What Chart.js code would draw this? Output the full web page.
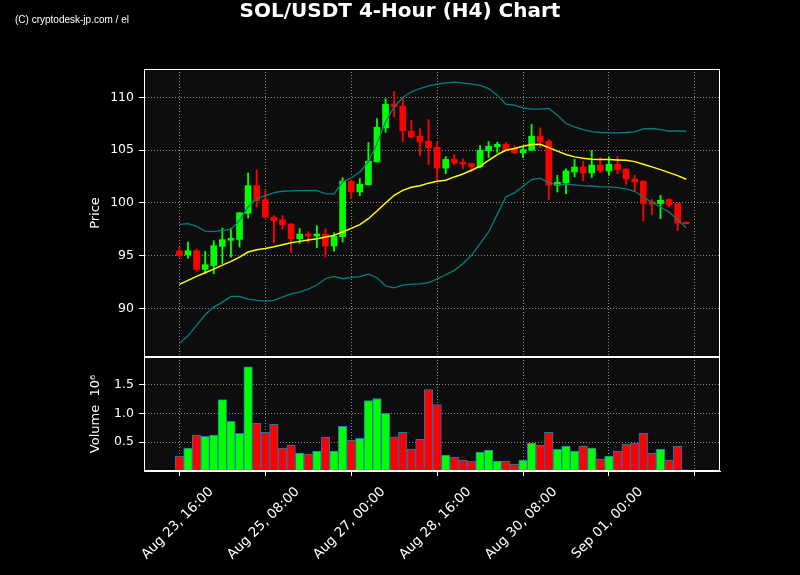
<!DOCTYPE html>
<html><head><meta charset="utf-8">
<script src="https://cdn.jsdelivr.net/npm/chart.js@4"></script>
<style>
html,body{margin:0;padding:0;background:#000;}
#wrap{position:relative;width:800px;height:575px;background:#000;}
#wm{position:absolute;left:15px;top:14px;color:#fff;font:10px "Liberation Sans",Arial,sans-serif;white-space:nowrap;}
</style></head><body>
<div id="wrap"><canvas id="c" width="800" height="575"></canvas><div id="wm">(C) cryptodesk-jp.com / el</div></div>
<script>
// ---- data (4-hour candles, Aug 23 16:00 onward) ----
const opens  = [95.45,95.08,95.47,93.70,94.08,95.89,96.46,96.55,99.02,101.65,100.32,98.64,98.40,98.00,96.62,97.06,96.86,97.06,95.92,96.80,102.07,101.05,101.72,103.90,107.12,109.37,109.18,106.80,106.33,105.86,105.29,103.30,104.15,103.86,103.73,103.42,104.94,105.32,105.57,105.13,104.75,105.00,106.33,105.85,101.68,101.90,102.94,103.40,102.85,103.60,103.03,103.68,103.21,102.28,102.07,100.07,99.95,100.33,99.94,98.18];
const highs  = [95.80,96.30,95.63,95.41,96.42,97.63,97.63,99.10,102.85,103.13,101.17,98.80,98.80,98.05,97.58,97.28,97.85,97.56,97.18,102.40,102.10,102.32,105.73,107.99,109.89,110.58,110.04,107.82,107.06,107.91,105.77,104.40,104.59,104.18,103.76,105.44,105.82,105.76,105.76,105.44,105.25,107.44,107.12,106.01,102.63,103.23,104.13,103.94,104.98,104.32,104.37,104.40,103.25,102.62,102.10,100.33,100.72,100.42,99.97,98.20];
const lows   = [94.85,94.78,93.54,93.35,93.29,94.24,94.87,95.82,98.58,99.62,98.58,96.22,97.50,95.30,96.16,96.20,95.76,94.87,95.44,96.30,100.42,100.68,101.70,103.88,106.70,108.16,105.82,106.20,104.48,103.65,102.08,102.78,103.61,103.26,102.94,103.32,104.30,104.78,105.00,104.68,104.30,104.98,105.22,100.32,101.04,100.89,102.48,102.10,102.42,102.86,102.63,102.78,101.76,101.06,98.30,98.90,98.52,99.63,97.39,98.00];
const closes = [95.00,95.47,93.70,94.15,95.95,96.52,96.65,99.08,101.65,100.22,98.64,98.32,97.93,96.62,97.05,96.88,97.06,95.92,96.84,102.07,101.05,101.78,103.96,107.18,109.37,109.12,106.84,106.25,105.79,105.21,103.32,104.13,103.80,103.70,103.42,105.00,105.38,105.57,105.06,104.75,105.06,106.33,105.79,101.68,101.96,103.03,103.40,102.85,103.60,103.04,103.68,103.16,102.28,101.99,99.95,99.92,100.26,99.81,98.08,98.03];
const volumes = [0.259,0.397,0.626,0.603,0.626,1.241,0.862,0.655,1.810,0.828,0.672,0.810,0.397,0.454,0.310,0.293,0.345,0.586,0.345,0.776,0.534,0.569,1.224,1.259,1.000,0.592,0.672,0.379,0.552,1.414,1.155,0.276,0.241,0.190,0.172,0.328,0.362,0.172,0.172,0.121,0.190,0.483,0.448,0.672,0.379,0.431,0.345,0.431,0.397,0.207,0.259,0.345,0.466,0.483,0.655,0.310,0.379,0.190,0.431,0.020];
const sma   = [92.28,92.66,93.04,93.39,93.73,94.11,94.46,94.87,95.35,95.57,95.68,95.85,96.04,96.23,96.36,96.48,96.61,96.77,96.93,97.25,97.59,97.94,98.51,99.24,100.00,100.73,101.20,101.49,101.64,101.88,102.05,102.15,102.47,102.75,103.10,103.48,104.05,104.59,105.00,105.16,105.38,105.54,105.57,105.25,104.91,104.59,104.37,104.24,104.15,104.11,104.11,104.08,104.05,103.92,103.67,103.42,103.16,102.88,102.59,102.25];
const upper = [97.97,98.04,97.78,97.34,97.28,97.41,97.50,98.35,99.62,100.41,100.68,100.98,101.11,101.14,101.17,101.19,101.17,100.89,100.85,102.00,102.37,102.94,103.89,105.63,107.69,109.11,110.00,110.54,110.85,111.10,111.27,111.39,111.46,111.36,111.27,111.14,110.85,110.22,109.37,109.27,109.02,108.89,108.89,108.96,108.32,107.53,107.22,106.96,106.77,106.68,106.65,106.65,106.68,106.74,107.03,107.06,106.96,106.80,106.84,106.80];
const lower = [86.71,87.41,88.39,89.40,90.13,90.60,91.14,91.14,90.89,90.76,90.70,90.76,91.08,91.39,91.55,91.84,92.22,92.82,93.04,92.82,92.94,93.01,93.26,92.91,92.15,91.96,92.22,92.31,92.34,92.44,92.80,93.20,93.61,94.24,95.03,96.14,97.25,98.92,100.57,100.95,101.58,102.22,102.34,101.90,101.74,101.77,101.71,101.65,101.61,101.52,101.52,101.46,101.33,101.11,100.57,100.06,99.62,99.15,98.42,97.66];
const tickIndex  = [0,10,20,30,40,50,60];
const tickLabels = ['Aug 23, 16:00','Aug 25, 08:00','Aug 27, 00:00','Aug 28, 16:00','Aug 30, 08:00','Sep 01, 00:00',''];
const priceTicks  = [90,95,100,105,110];
const volumeTicks = [0.5,1.0,1.5];

// ---- build ----
const UP = '#00ff00', DOWN = '#ff0000';
const idx = closes.map((_, i) => i);
const colors = idx.map(i => closes[i] >= opens[i] ? UP : DOWN);
const gridColor = '#8a8a8a';
Chart.defaults.font.family = 'DejaVu Sans';
Chart.defaults.color = '#ffffff';

const panels = {
  id: 'panels',
  beforeDraw(chart) {
    const {ctx, chartArea: a} = chart;
    ctx.save();
    ctx.fillStyle = '#0d0d0d';
    ctx.fillRect(a.left, a.top, a.right - a.left, a.bottom - a.top);
    ctx.restore();
  },
  afterDraw(chart) {
    const {ctx, chartArea: a} = chart;
    ctx.save();
    ctx.strokeStyle = '#ffffff';
    ctx.lineWidth = 1;
    ['y', 'yv'].forEach(id => {
      const s = chart.scales[id];
      ctx.strokeRect(Math.round(a.left) + 0.5, Math.round(s.top) + 0.5,
        Math.round(a.right - a.left) - 1, Math.round(s.bottom - s.top) - 1);
    });
    ctx.restore();
  }
};

const yTickOpts = {color: '#ffffff', font: {size: 12.5}, padding: 5};
const gridOpts = {color: gridColor, lineWidth: 1, tickColor: '#ffffff', tickLength: 5, tickBorderDash: [], tickWidth: 1, offset: false};

new Chart(document.getElementById('c'), {
  type: 'bar',
  data: {
    datasets: [
      {type: 'line', label: 'SMA', data: idx.map(i => ({x: i, y: sma[i]})), yAxisID: 'y',
       borderColor: '#ffff00', borderWidth: 1.5, pointRadius: 0, tension: 0, order: 0},
      {type: 'line', label: 'Upper', data: idx.map(i => ({x: i, y: upper[i]})), yAxisID: 'y',
       borderColor: '#008080', borderWidth: 1.3, pointRadius: 0, tension: 0, order: 0},
      {type: 'line', label: 'Lower', data: idx.map(i => ({x: i, y: lower[i]})), yAxisID: 'y',
       borderColor: '#008080', borderWidth: 1.3, pointRadius: 0, tension: 0, order: 0},
      {type: 'bar', label: 'Body', data: idx.map(i => ({x: i, y: [opens[i], closes[i]]})), yAxisID: 'y',
       backgroundColor: colors, barThickness: 6, grouped: false, borderWidth: 0, order: 1},
      {type: 'bar', label: 'Wick', data: idx.map(i => ({x: i, y: [lows[i], highs[i]]})), yAxisID: 'y',
       backgroundColor: colors, barThickness: 1.2, grouped: false, borderWidth: 0, order: 2},
      {type: 'bar', label: 'Volume', data: idx.map(i => ({x: i, y: volumes[i]})), yAxisID: 'yv',
       backgroundColor: colors, borderColor: '#1f77b4', borderWidth: 1, borderSkipped: false,
       barThickness: 8.6, grouped: false, order: 3}
    ]
  },
  options: {
    responsive: false,
    animation: false,
    devicePixelRatio: 1,
    layout: {padding: {left: 0, right: 0, top: 0, bottom: 0}},
    plugins: {
      legend: {display: false},
      tooltip: {enabled: false},
      title: {display: true, text: 'SOL/USDT 4-Hour (H4) Chart', color: '#ffffff',
              font: {size: 20, weight: 'bold', lineHeight: 1.2}, padding: {top: 0, bottom: 45}}
    },
    scales: {
      x: {
        type: 'linear', min: -4.12, max: 62.93, offset: false,
        afterBuildTicks: ax => { ax.ticks = tickIndex.map(v => ({value: v})); },
        afterFit: s => { s.height = 104; },
        ticks: {
          autoSkip: false, maxRotation: 45, minRotation: 45, color: '#ffffff',
          font: {size: 13.5}, padding: 8, labelOffset: 32,
          callback: v => { const k = tickIndex.indexOf(v); return k >= 0 ? tickLabels[k] : ''; }
        },
        grid: gridOpts,
        border: {display: true, color: '#ffffff', width: 1, dash: [1, 2]}
      },
      yv: {
        type: 'linear', position: 'left', stack: 'panels', stackWeight: 114,
        min: 0, max: 1.98,
        afterBuildTicks: ax => { ax.ticks = volumeTicks.map(v => ({value: v})); },
        afterFit: s => { s.width = 144; },
        ticks: Object.assign({callback: v => v.toFixed(1)}, yTickOpts),
        grid: gridOpts,
        border: {display: true, color: '#ffffff', width: 1, dash: [1, 2]},
        title: {display: true, text: 'Volume  10\u2076', color: '#ffffff', font: {size: 13}, padding: {top: 88, bottom: 0}}
      },
      y: {
        type: 'linear', position: 'left', stack: 'panels', stackWeight: 288,
        min: 85.4, max: 112.7,
        afterBuildTicks: ax => { ax.ticks = priceTicks.map(v => ({value: v})); },
        afterFit: s => { s.width = 144; },
        ticks: Object.assign({callback: v => String(v)}, yTickOpts),
        grid: gridOpts,
        border: {display: true, color: '#ffffff', width: 1, dash: [1, 2]},
        title: {display: true, text: 'Price', color: '#ffffff', font: {size: 13}, padding: {top: 88, bottom: 0}}
      },
      gap: {
        type: 'linear', position: 'right', display: true, min: 0, max: 1,
        grid: {display: false}, ticks: {display: false}, border: {display: false},
        afterFit: s => { s.width = 80; }
      }
    }
  },
  plugins: [panels]
});
</script></body></html>
